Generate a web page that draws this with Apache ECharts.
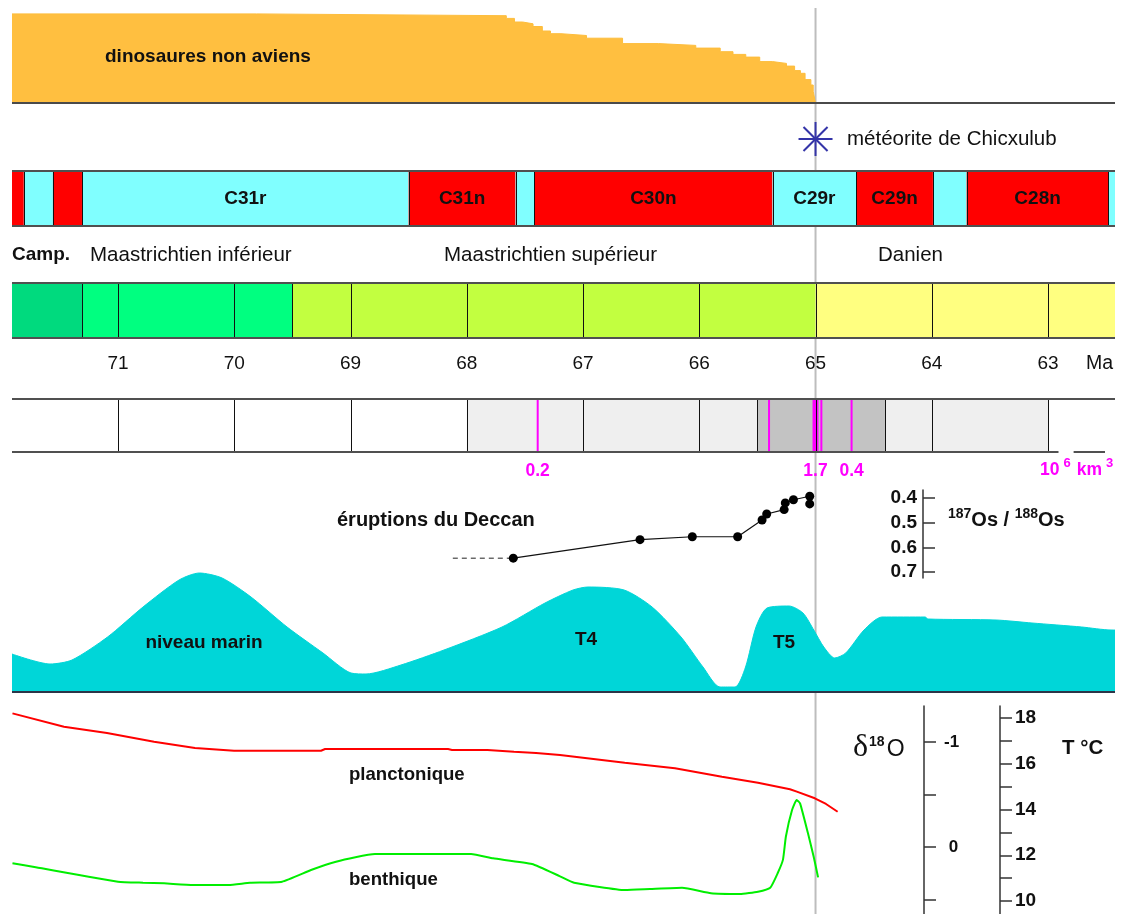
<!DOCTYPE html>
<html lang="fr"><head><meta charset="utf-8"><title>Limite Crétacé-Paléogène</title>
<script src="https://cdn.jsdelivr.net/npm/echarts@6.0.0/dist/echarts.min.js"></script>
<style>html,body{margin:0;padding:0;background:#fff;}#chart{width:1123px;height:914px;}</style>
</head><body><div id="chart"></div>
<script>
// ---------- time span (Ma, older on the left) ----------
const ageOld = 71.912, ageYoung = 62.424;
const tickAges = [71, 70, 69, 68, 67, 66, 65, 64, 63];
const kpgAge = 65.0;
const meteorAge = 65.0;

// ---------- non-avian dinosaurs (relative diversity, %) ----------
const dinoAge = [71.912, 69.81, 67.66, 67.59, 67.52, 67.43, 67.35, 67.28, 67.19, 66.97, 66.66, 66.35, 66.03, 65.82, 65.71, 65.60, 65.48, 65.37, 65.25, 65.18, 65.13, 65.09, 65.04, 65.02, 65.005, 65.0];
const dinoDiversity = [99, 97, 94, 90, 88, 85, 80, 77, 75, 72, 66, 64, 61, 57, 54, 51, 46, 44, 41, 36, 33, 26, 20, 13, 3, 0];

// ---------- magnetochrons ----------
const chronStart = [71.912, 71.81, 71.56, 71.31, 68.50, 67.58, 67.42, 65.37, 64.65, 63.99, 63.70, 62.48];
const chronEnd   = [71.81, 71.56, 71.31, 68.50, 67.58, 67.42, 65.37, 64.65, 63.99, 63.70, 62.48, 62.424];
const chronPolarity = ['n', 'r', 'n', 'r', 'n', 'r', 'n', 'r', 'n', 'r', 'n', 'r'];
const chronName = ['', '', '', 'C31r', 'C31n', '', 'C30n', 'C29r', 'C29n', '', 'C28n', ''];

// ---------- stages ----------
const stageStart = [71.912, 71.31, 69.5, 65.0];
const stageEnd   = [71.31, 69.5, 65.0, 62.424];
const stageName  = ['Camp.', 'Maastrichtien inférieur', 'Maastrichtien supérieur', 'Danien'];

// ---------- Deccan eruptions ----------
const deccanPhaseStart = [68.0, 65.5];
const deccanPhaseEnd   = [63.0, 64.4];
const deccanBoundaries = [65.5, 64.4];
const pulseAge    = [67.39, 65.40, 65.0, 64.95, 64.69];
const pulseVolume = [0.2, null, 1.7, null, 0.4];   // 10^6 km3
const eruptBottomStart = [71.912, 62.78];
const eruptBottomEnd   = [62.91, 62.51];

// ---------- 187Os/188Os ----------
const osAge   = [67.60, 66.51, 66.06, 65.67, 65.46, 65.42, 65.27, 65.26, 65.19, 65.05, 65.05];
const osRatio = [0.644, 0.569, 0.557, 0.557, 0.489, 0.465, 0.447, 0.420, 0.407, 0.393, 0.424];
const osDashedAge = [68.12, 67.60];
const osDashedRatio = [0.644, 0.644];
const osTicks = [0.4, 0.5, 0.6, 0.7];

// ---------- sea level (relative) ----------
const seaAge = [71.912, 71.585, 71.396, 71.09, 70.785, 70.475, 70.30, 70.105, 69.856, 69.546, 69.237, 68.996, 68.867, 68.566, 68.196, 67.697, 67.327, 67.086, 66.957, 66.647, 66.406, 66.157, 65.968, 65.822, 65.692, 65.602, 65.512, 65.417, 65.228, 65.108, 65.015, 64.929, 64.835, 64.74, 64.583, 64.428, 64.058, 64.032, 63.447, 63.138, 62.71, 62.458, 62.424];
const seaLevel = [38, 28, 32, 55, 85, 112, 119, 114, 95, 65, 39, 19, 18, 27, 42, 65, 89, 102, 105, 102, 85, 55, 25, 5, 5, 25, 65, 84, 86, 79, 62, 45, 34, 39, 62, 75, 75, 73, 72, 69, 65, 62, 62];

// ---------- delta 18O ----------
const plankAge = [71.908, 71.465, 71.095, 70.69, 70.338, 70.002, 69.254, 69.219, 68.161, 68.127, 67.822, 67.594, 67.404, 67.198, 66.641, 66.209, 65.805, 65.495, 65.22, 65.161, 65.006, 64.91, 64.81];
const plankD18O = [-1.273, -1.146, -1.086, -1.003, -0.943, -0.917, -0.917, -0.933, -0.933, -0.924, -0.924, -0.908, -0.895, -0.876, -0.803, -0.750, -0.670, -0.612, -0.550, -0.527, -0.464, -0.410, -0.336];
const benthAge = [71.908, 71.708, 71.0, 70.785, 70.604, 70.355, 70.049, 69.865, 69.589, 69.34, 69.125, 68.79, 67.963, 67.774, 67.439, 67.198, 67.077, 66.639, 66.424, 66.148, 65.899, 65.65, 65.495, 65.39, 65.326, 65.28, 65.255, 65.202, 65.162, 65.133, 65.065, 65.016, 64.978];
const benthD18O = [0.155, 0.193, 0.330, 0.340, 0.346, 0.362, 0.362, 0.340, 0.330, 0.219, 0.140, 0.067, 0.067, 0.108, 0.162, 0.279, 0.340, 0.410, 0.400, 0.388, 0.441, 0.448, 0.426, 0.388, 0.250, 0.120, -0.100, -0.352, -0.448, -0.416, -0.130, 0.092, 0.289];

// =====================================================================
const SANS = '"Liberation Sans", Arial, Helvetica, sans-serif';
const SERIF = '"Liberation Serif", "Times New Roman", serif';
const zip = (a, b) => a.map((v, i) => [v, b[i]]);
const grid = [], xAxis = [], yAxis = [], series = [];

function timeGrid(top, height, y) {
  grid.push({ left: 12, right: 8, top: top, height: height });
  const i = grid.length - 1;
  xAxis.push({ gridIndex: i, type: 'value', min: ageYoung, max: ageOld, inverse: true, show: false });
  yAxis.push(Object.assign({ gridIndex: i, type: 'value', min: 0, max: 1, show: false }, y || {}));
  return i;
}
function axisGrid(left, top, height, y) {
  grid.push({ left: left, top: top, height: height, width: 40 });
  const i = grid.length - 1;
  xAxis.push({ gridIndex: i, type: 'value', min: 0, max: 1, show: false });
  yAxis.push(Object.assign({ gridIndex: i, type: 'value', position: 'left', splitLine: { show: false } }, y));
  return i;
}
function hline(gi, yVal, starts, ends, color, width) {
  series.push({
    type: 'custom', xAxisIndex: gi, yAxisIndex: gi, z: 6, silent: true,
    data: starts.map((s, k) => [s, ends[k]]), encode: { x: [0, 1] },
    renderItem: (p, api) => {
      const a = api.coord([api.value(0), yVal]), b = api.coord([api.value(1), yVal]);
      return { type: 'line', shape: { x1: a[0], y1: a[1], x2: b[0], y2: b[1] }, style: { stroke: color, lineWidth: width } };
    }
  });
}
function vlines(gi, ages, color, z) {
  series.push({
    type: 'custom', xAxisIndex: gi, yAxisIndex: gi, z: z, silent: true,
    data: ages.map(a => [a]), encode: { x: 0 },
    renderItem: (p, api) => {
      const a = api.coord([api.value(0), 1]), b = api.coord([api.value(0), 0]);
      const x = Math.round(a[0]) + 0.5;
      return { type: 'line', shape: { x1: x, y1: a[1], x2: x, y2: b[1] }, style: { stroke: color, lineWidth: 1 } };
    }
  });
}
function cells(gi, starts, ends, colorFn, z) {
  series.push({
    type: 'custom', xAxisIndex: gi, yAxisIndex: gi, z: z, silent: true,
    data: starts.map((s, k) => [s, ends[k]]), encode: { x: [0, 1] },
    renderItem: (p, api) => {
      const a = api.coord([api.value(0), 1]), b = api.coord([api.value(1), 0]);
      return { type: 'rect', shape: { x: a[0], y: a[1], width: b[0] - a[0], height: b[1] - a[1] }, style: { fill: colorFn(p.dataIndex) } };
    }
  });
}
function textStyle(text, x, y, font, fill, align) {
  return { text: text, x: x, y: y, font: font, fill: fill || '#111', align: align || 'center', textAlign: align || 'center', verticalAlign: 'middle', textVerticalAlign: 'middle' };
}

// ---------- grids ----------
const gOverlay = timeGrid(8, 906);
const gDino = timeGrid(13, 90, { min: 0, max: 100 });
const gMet = timeGrid(106, 66);
const gChron = timeGrid(171, 55);
const gStage = timeGrid(283, 55);
const gErupt = timeGrid(399, 53);
const gOs = timeGrid(498, 74, { min: 0.4, max: 0.7, inverse: true });
const gSea = timeGrid(560, 132, { min: 0, max: 132 });
const gD18 = timeGrid(706, 208, { min: -1.343, max: 0.638, inverse: true });

// K-Pg boundary line
series.push({
  type: 'line', xAxisIndex: gOverlay, yAxisIndex: gOverlay, z: 1, silent: true, symbol: 'none',
  data: [[kpgAge, 0], [kpgAge, 1]], lineStyle: { color: '#BDBDBD', width: 2 }
});

// dinosaurs
series.push({
  type: 'line', xAxisIndex: gDino, yAxisIndex: gDino, z: 3, step: 'end', symbol: 'none', silent: true,
  data: zip(dinoAge, dinoDiversity),
  lineStyle: { color: '#FDBD3C', width: 1 }, areaStyle: { color: '#FFBF40', opacity: 1 }
});
hline(gDino, 0, [ageOld], [ageYoung], '#4A4A4A', 2);

// meteorite
series.push({
  type: 'custom', xAxisIndex: gMet, yAxisIndex: gMet, z: 5, silent: true,
  data: [[meteorAge, 0.5]],
  renderItem: (p, api) => {
    const c = api.coord([api.value(0), api.value(1)]), r = 17;
    return { type: 'group', children: [0, 45, 90, 135].map(d => {
      const t = d * Math.PI / 180;
      return { type: 'line', shape: { x1: c[0] - r * Math.cos(t), y1: c[1] - r * Math.sin(t), x2: c[0] + r * Math.cos(t), y2: c[1] + r * Math.sin(t) }, style: { stroke: '#3434A8', lineWidth: 2 } };
    }) };
  }
});

// magnetochrons
cells(gChron, chronStart, chronEnd, i => chronPolarity[i] === 'n' ? '#FF0000' : '#80FFFF', 3);
vlines(gChron, chronStart.slice(1), '#111', 4);
series.push({
  type: 'custom', xAxisIndex: gChron, yAxisIndex: gChron, z: 5, silent: true,
  data: chronStart.map((s, k) => [s, chronEnd[k]]), encode: { x: [0, 1] },
  renderItem: (p, api) => {
    const a = api.coord([api.value(0), 0.5]), b = api.coord([api.value(1), 0.5]);
    return { type: 'text', style: textStyle(chronName[p.dataIndex], (a[0] + b[0]) / 2, a[1], 'bold 19px ' + SANS, '#111') };
  }
});
hline(gChron, 1, [ageOld], [ageYoung], '#505050', 2);
hline(gChron, 0, [ageOld], [ageYoung], '#505050', 2);

// stages
const STAGE_COLORS = ['#00DA7E', '#00FF80', '#C2FF40', '#FFFF80'];
cells(gStage, stageStart, stageEnd, i => STAGE_COLORS[i], 3);
vlines(gStage, tickAges.concat(stageStart.slice(1)), '#111', 4);
hline(gStage, 1, [ageOld], [ageYoung], '#505050', 2);
hline(gStage, 0, [ageOld], [ageYoung], '#505050', 2);
// tick labels (Ma)
series.push({
  type: 'custom', xAxisIndex: gStage, yAxisIndex: gStage, z: 5, silent: true,
  data: tickAges.map(a => [a]), encode: { x: 0 },
  renderItem: (p, api) => {
    const a = api.coord([api.value(0), 0]);
    return { type: 'text', style: textStyle(String(tickAges[p.dataIndex]), a[0], a[1] + 26, '19px ' + SANS, '#111') };
  }
});

// Deccan eruptions
cells(gErupt, deccanPhaseStart, deccanPhaseEnd, i => i === 0 ? '#EFEFEF' : '#C3C3C3', 2);
series.push({
  type: 'custom', xAxisIndex: gErupt, yAxisIndex: gErupt, z: 3, silent: true,
  data: pulseAge.map(a => [a]), encode: { x: 0 },
  renderItem: (p, api) => {
    const a = api.coord([api.value(0), 1]), b = api.coord([api.value(0), 0]);
    const v = pulseVolume[p.dataIndex];
    const w = v !== null && v >= 1 ? 6 : 2;
    const children = [{ type: 'line', shape: { x1: a[0], y1: a[1], x2: a[0], y2: b[1] }, style: { stroke: '#FF00FF', lineWidth: w } }];
    if (v !== null) children.push({ type: 'text', style: textStyle(String(v), a[0], b[1] + 19, 'bold 17.5px ' + SANS, '#FF00FF') });
    return { type: 'group', children: children };
  }
});
vlines(gErupt, tickAges.concat(deccanBoundaries), '#111', 4);
hline(gErupt, 1, [ageOld], [ageYoung], '#505050', 2);
hline(gErupt, 0, eruptBottomStart, eruptBottomEnd, '#505050', 2);

// Os isotopes
series.push({
  type: 'line', xAxisIndex: gOs, yAxisIndex: gOs, z: 5, clip: false, silent: true, symbol: 'none',
  data: zip(osDashedAge, osDashedRatio), lineStyle: { color: '#222', width: 1, type: [5, 4] }
});
series.push({
  type: 'line', xAxisIndex: gOs, yAxisIndex: gOs, z: 6, clip: false, silent: true,
  symbol: 'circle', symbolSize: 9, itemStyle: { color: '#000' },
  data: zip(osAge, osRatio), lineStyle: { color: '#111', width: 1.2 }
});

// sea level
series.push({
  type: 'line', xAxisIndex: gSea, yAxisIndex: gSea, z: 3, silent: true, symbol: 'none', smooth: 0.25,
  data: zip(seaAge, seaLevel),
  lineStyle: { color: '#00D6D8', width: 1 }, areaStyle: { color: '#00D6D8', opacity: 1 }
});
hline(gSea, 0, [ageOld], [ageYoung], '#2C3548', 2);

// delta 18O
series.push({
  type: 'line', xAxisIndex: gD18, yAxisIndex: gD18, z: 4, silent: true, symbol: 'none', clip: false,
  data: zip(plankAge, plankD18O), lineStyle: { color: '#FF0000', width: 2 }
});
series.push({
  type: 'line', xAxisIndex: gD18, yAxisIndex: gD18, z: 4, silent: true, symbol: 'none', clip: false, smooth: 0.15,
  data: zip(benthAge, benthD18O), lineStyle: { color: '#00EE00', width: 2 }
});

// ---------- right-hand scales ----------
const tickStyle = { show: true, inside: true, length: 12, lineStyle: { color: '#333', width: 1.5 } };
const lineOnly = { axisLine: { show: true, lineStyle: { color: '#333', width: 1.5 } }, axisTick: { show: false }, axisLabel: { show: false }, min: 0, max: 1 };
// Os
axisGrid(923, 490, 88, lineOnly);
axisGrid(923, 498, 74, {
  min: osTicks[0], max: osTicks[osTicks.length - 1], interval: 0.1, inverse: true,
  axisLine: { show: false }, axisTick: tickStyle,
  axisLabel: { show: true, inside: false, margin: 6, color: '#111', fontFamily: SANS, fontWeight: 'bold', fontSize: 19, formatter: v => v.toFixed(1) }
});
// delta 18O
axisGrid(924, 706, 208, lineOnly);
axisGrid(924, 742, 157.5, {
  min: -1, max: 0.5, interval: 0.5, inverse: true,
  axisLine: { show: false }, axisTick: tickStyle,
  axisLabel: { show: true, inside: true, margin: 20, color: '#111', fontFamily: SANS, fontWeight: 'bold', fontSize: 17, formatter: v => (Math.abs(v + 1) < 1e-9 ? '-1' : Math.abs(v) < 1e-9 ? ' 0' : '') }
});
// temperature
axisGrid(1000, 706, 208, lineOnly);
axisGrid(1000, 718, 183, {
  min: 10, max: 18, interval: 1,
  axisLine: { show: false }, axisTick: tickStyle,
  axisLabel: { show: true, inside: true, margin: 15, color: '#111', fontFamily: SANS, fontWeight: 'bold', fontSize: 19, formatter: v => (Math.round(v) % 2 === 0 ? String(Math.round(v)) : '') }
});

// ---------- annotation texts ----------
function gtext(x, y, text, font, fill, align) {
  return { type: 'text', x: 0, y: 0, z: 50, silent: true, style: textStyle(text, x, y, font, fill, align || 'left') };
}
const graphics = [
  gtext(105, 57, 'dinosaures non aviens', 'bold 19px ' + SANS),
  gtext(847, 139, 'météorite de Chicxulub', '20.5px ' + SANS),
  gtext(12, 255, stageName[0], 'bold 19px ' + SANS),
  gtext(90, 255, stageName[1], '20.5px ' + SANS),
  gtext(444, 255, stageName[2], '20.5px ' + SANS),
  gtext(878, 255, stageName[3], '20.5px ' + SANS),
  gtext(1086, 364, 'Ma', '19.5px ' + SANS),
  gtext(337, 520, 'éruptions du Deccan', 'bold 20px ' + SANS),
  gtext(204, 643, 'niveau marin', 'bold 19px ' + SANS, '#111', 'center'),
  gtext(586, 640, 'T4', 'bold 19px ' + SANS, '#111', 'center'),
  gtext(784, 643, 'T5', 'bold 19px ' + SANS, '#111', 'center'),
  gtext(349, 775, 'planctonique', 'bold 18.6px ' + SANS),
  gtext(349, 880, 'benthique', 'bold 18.6px ' + SANS),
  gtext(1062, 748, 'T °C', 'bold 20.5px ' + SANS),
  { type: 'text', x: 0, y: 0, z: 50, silent: true, style: Object.assign(textStyle('{a|10}{b|6}{a|km}{b|3}', 1040, 470, 'bold 17px ' + SANS, '#FF00FF', 'left'), {
      rich: { a: { fontSize: 17.5, fontWeight: 'bold', fontFamily: SANS, fill: '#FF00FF', lineHeight: 26 }, b: { fontSize: 13, fontWeight: 'bold', fontFamily: SANS, fill: '#FF00FF', verticalAlign: 'top', padding: [0, 6, 0, 4] } } }) },
  { type: 'text', x: 0, y: 0, z: 50, silent: true, style: Object.assign(textStyle('{s|187}{m|Os / }{s|188}{m|Os}', 948, 520, 'bold 20px ' + SANS, '#111', 'left'), {
      rich: { m: { fontSize: 20, fontWeight: 'bold', fontFamily: SANS, fill: '#111', lineHeight: 26 }, s: { fontSize: 14, fontWeight: 'bold', fontFamily: SANS, fill: '#111', verticalAlign: 'top' } } }) },
  { type: 'text', x: 0, y: 0, z: 50, silent: true, style: Object.assign(textStyle('{d|δ}{s|18}{o|O}', 853, 748, '22px ' + SANS, '#111', 'left'), {
      rich: { d: { fontSize: 32, fontFamily: SERIF, fill: '#111', lineHeight: 32 }, s: { fontSize: 14, fontWeight: 'bold', fontFamily: SANS, fill: '#111', verticalAlign: 'top', padding: [3, 2, 0, 1] }, o: { fontSize: 23, fontFamily: SANS, fill: '#111', lineHeight: 32, padding: [3, 0, 0, 0] } } }) }
];

const chart = echarts.init(document.getElementById('chart'), null, { renderer: 'canvas' });
chart.setOption({
  animation: false, backgroundColor: '#fff',
  grid: grid, xAxis: xAxis, yAxis: yAxis, series: series,
  graphic: { elements: graphics }
});
</script></body></html>
